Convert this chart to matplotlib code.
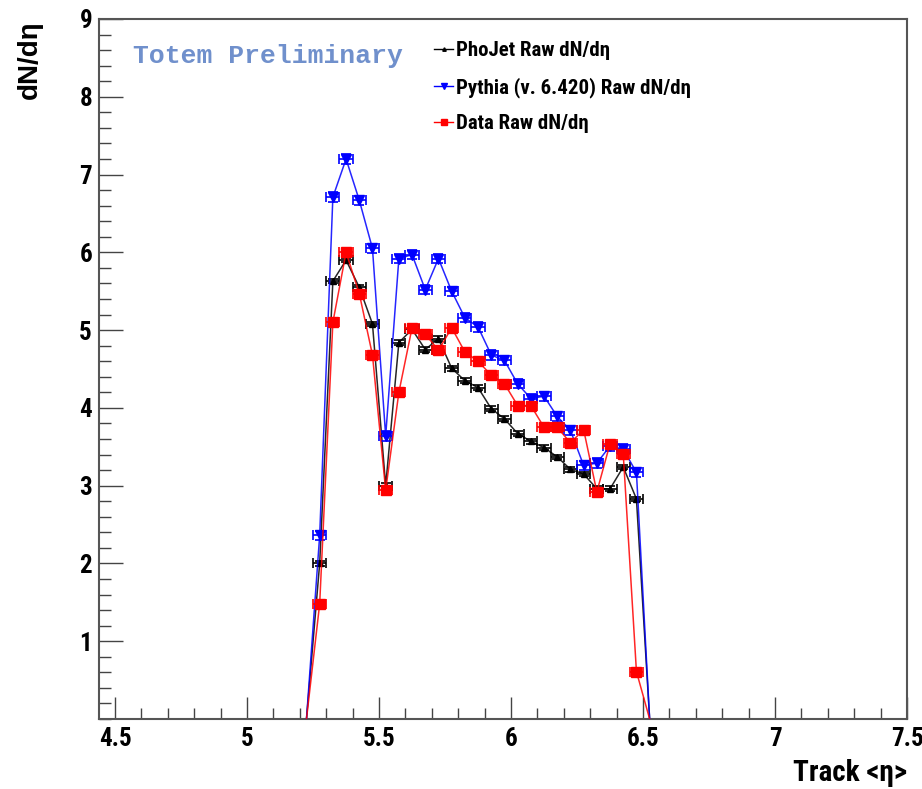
import numpy as np
import matplotlib.pyplot as plt
from matplotlib.ticker import MultipleLocator
from matplotlib.lines import Line2D

narrow = ['Roboto Condensed', 'Liberation Sans Narrow', 'Liberation Sans', 'DejaVu Sans']
plt.rcParams['font.family'] = narrow

# bin centres in eta (bin width 0.05)
eta = [5.225, 5.275, 5.325, 5.375, 5.425, 5.475, 5.525, 5.575, 5.625,
       5.675, 5.725, 5.775, 5.825, 5.875, 5.925, 5.975, 6.025, 6.075,
       6.125, 6.175, 6.225, 6.275, 6.325, 6.375, 6.425, 6.475, 6.525]

phojet = [0, 2.00, 5.63, 5.90, 5.55, 5.08, 3.00, 4.84, 5.01, 4.75, 4.89,
          4.51, 4.35, 4.26, 3.99, 3.86, 3.67, 3.57, 3.49, 3.37, 3.21, 3.15,
          2.96, 2.96, 3.24, 2.83, 0]
pythia = [0, 2.36, 6.71, 7.20, 6.67, 6.05, 3.64, 5.92, 5.97, 5.52, 5.92,
          5.50, 5.16, 5.04, 4.68, 4.61, 4.31, 4.12, 4.15, 3.89, 3.71, 3.26,
          3.29, 3.51, 3.47, 3.17, 0]
data = [0, 1.48, 5.10, 6.00, 5.47, 4.68, 2.94, 4.20, 5.03, 4.95, 4.74,
        5.03, 4.72, 4.60, 4.42, 4.31, 4.03, 4.03, 3.75, 3.75, 3.55, 3.72,
        2.92, 3.54, 3.41, 0.61, 0]

half_bin = 0.025
err_phojet = 0.03
err_pythia = 0.06
err_data = 0.04

labels = ['PhoJet Raw dN/d\u03b7', 'Pythia (v. 6.420) Raw dN/d\u03b7', 'Data Raw dN/d\u03b7']

fig = plt.figure(figsize=(9.22, 7.89), dpi=100)
ax = fig.add_axes([99/922, 1-719/789, 808/922, 700/789])

x = np.array(eta)
series = [(phojet, err_phojet, 'black', '^', 5),
          (pythia, err_pythia, 'blue', 'v', 7),
          (data, err_data, 'red', 's', 6.5)]
handles = []
for i, (vals, err, col, mk, ms) in enumerate(series):
    v = np.array(vals)
    ax.plot(x, v, color=col, lw=1.1, alpha=0.85, zorder=2+i)
    m = v > 0
    ax.errorbar(x[m], v[m], xerr=half_bin, yerr=err, fmt=mk, color=col,
                ms=ms, capsize=3.5, elinewidth=1.2, capthick=1.2, zorder=2+i)
    handles.append(Line2D([], [], color=col, lw=1, marker=mk, ms=ms-2.5))

ax.set_xlim(4.439, 7.5)
ax.set_ylim(0, 9)
ax.xaxis.set_major_locator(MultipleLocator(0.5))
ax.xaxis.set_minor_locator(MultipleLocator(0.1))
ax.yaxis.set_major_locator(MultipleLocator(1))
ax.yaxis.set_minor_locator(MultipleLocator(0.2))
ax.set_yticks([1, 2, 3, 4, 5, 6, 7, 8, 9])
ax.set_xticks([4.5, 5, 5.5, 6, 6.5, 7, 7.5])
ax.set_xticklabels(['4.5', '5', '5.5', '6', '6.5', '7', '7.5'])

ax.tick_params(axis='x', which='major', direction='in', length=16, width=1, color='#444444',
               top=False, labelsize=18, pad=6)
ax.tick_params(axis='x', which='minor', direction='in', length=8, width=1, color='#444444', top=False)
ax.tick_params(axis='y', which='major', direction='in', length=17, width=1, color='#444444',
               right=False, labelsize=18, pad=5)
ax.tick_params(axis='y', which='minor', direction='in', length=8.5, width=1, color='#444444', right=False)
for lab in ax.get_xticklabels() + ax.get_yticklabels():
    lab.set_fontweight('bold')
for s in ax.spines.values():
    s.set_color('#555555')
    s.set_linewidth(1.5)

fig.text(30/922, 1-20/789, 'dN/d\u03b7', rotation=90, ha='center', va='top',
         fontsize=20, fontweight='bold', family=['Liberation Sans', 'DejaVu Sans'])
fig.text(907/922, 1-787/789, 'Track <\u03b7>', ha='right', va='bottom',
         fontsize=21, fontweight='bold')

ax.text(133/922, 1-56/789, 'Totem Preliminary', transform=fig.transFigure,
        ha='left', va='center', fontsize=19, fontweight='bold',
        family=['Liberation Mono', 'DejaVu Sans Mono'], color='#7090cc')

ax.legend(handles, labels, loc='upper left', bbox_to_anchor=(426/922, 1-33/789),
          bbox_transform=fig.transFigure, frameon=False, handlelength=0.9,
          handletextpad=0.15, labelspacing=0.8, borderaxespad=0,
          prop={'size': 15, 'weight': 'bold'})

fig.savefig('out.png', dpi=100)
